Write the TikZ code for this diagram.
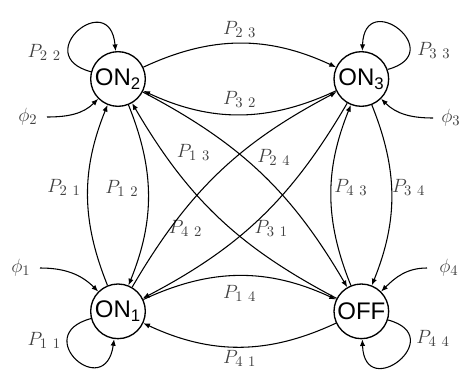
\documentclass[tikz,border=0pt]{standalone}
\usepackage{fontspec}
\newfontfamily\statefont{Liberation Sans}
\usetikzlibrary{arrows.meta,positioning}
\tikzset{
    state/.style={circle, draw, line width=1pt, minimum size=41pt, inner sep=0pt, font=\statefont\fontsize{18}{20}\selectfont, fill=white},
    trans/.style={-{Latex[length=5pt,width=4pt]}, line width=0.8pt},
    prob/.style={font=\fontsize{15}{17}\selectfont, text=black!75, inner sep=2pt},
}
\newcommand{\pij}[2]{$P_{#1\mkern7mu#2}$}

\begin{document}
\begin{tikzpicture}[node distance=132.25pt and 140.5pt]
    \useasboundingbox (0,0) rectangle (345pt,279pt);
    \node[state] (on2) at (88.5pt,219.75pt) {ON\textsubscript{2}};
    \node[state, right=of on2] (on3) {ON\textsubscript{3}};
    \node[state, below=of on2] (on1) {ON\textsubscript{1}};
    \node[state, below=of on3] (off) {OFF};

    % external inputs
    \coordinate (in2) at (35.25pt,191.25pt);
    \coordinate (in1) at (30pt,78pt);
    \coordinate (in3) at (324.75pt,190.5pt);
    \coordinate (in4) at (320.25pt,78pt);
    \node[prob, left=5pt of in2] (phi2) {$\phi_2$};
    \node[prob, left=5pt of in1] (phi1) {$\phi_1$};
    \node[prob, right=4pt of in3] (phi3) {$\phi_3$};
    \node[prob, right=7pt of in4] (phi4) {$\phi_4$};
    \draw[trans] (in2) to[out=0, in=225] (on2);
    \draw[trans] (in1) to[out=0, in=135] (on1);
    \draw[trans] (in3) to[out=180, in=-45] (on3);
    \draw[trans] (in4) to[out=180, in=45] (off);

    % self loops
    \draw[trans] (on2.165) to[out=165, in=95, distance=48pt] node[pos=0.25, left=3pt, prob] {\pij22} (on2.95);
    \draw[trans] (on3.20) to[out=15, in=88, distance=48pt] node[pos=0.25, right=3pt, prob] {\pij33} (on3.88);
    \draw[trans] (on1.195) to[out=195, in=262, distance=48pt] node[pos=0.22, left=3pt, yshift=-4pt, prob] {\pij11} (on1.262);
    \draw[trans] (off.-18) to[out=-15, in=272, distance=48pt] node[pos=0.2, right=3pt, yshift=-3pt, prob] {\pij44} (off.272);

    % sides
    \draw[trans] (on2) to[bend left=25] node[above=2pt, prob] {\pij23} (on3);
    \draw[trans] (on3) to[bend left=25] node[above=3pt, prob] {\pij32} (on2);
    \draw[trans] (on1) to[bend left=22] node[left=3pt, yshift=6pt, prob] {\pij21} (on2);
    \draw[trans] (on2) to[bend left=22] node[left=5pt, yshift=5pt, prob] {\pij12} (on1);
    \draw[trans] (on3) to[bend left=22] node[right, xshift=-2pt, yshift=6pt, prob] {\pij34} (off);
    \draw[trans] (off) to[bend left=22] node[right, yshift=6pt, prob] {\pij43} (on3);
    \draw[trans] (on1) to[bend left=25] node[below=5pt, prob] {\pij14} (off);
    \draw[trans] (off) to[bend left=25] node[below, prob] {\pij41} (on1);

    % diagonals
    \draw[trans] (on2) to[bend left=16] node[above right, xshift=-5pt, yshift=3pt, prob] {\pij24} (off);
    \draw[trans] (off) to[bend left=16] node[below left, xshift=-10pt, prob] {\pij42} (on2);
    \draw[trans] (on1) to[bend left=16] node[above left, xshift=-4pt, yshift=7pt, prob] {\pij13} (on3);
    \draw[trans] (on3) to[bend left=16] node[below right, xshift=-7pt, prob] {\pij31} (on1);
\end{tikzpicture}
\end{document}
